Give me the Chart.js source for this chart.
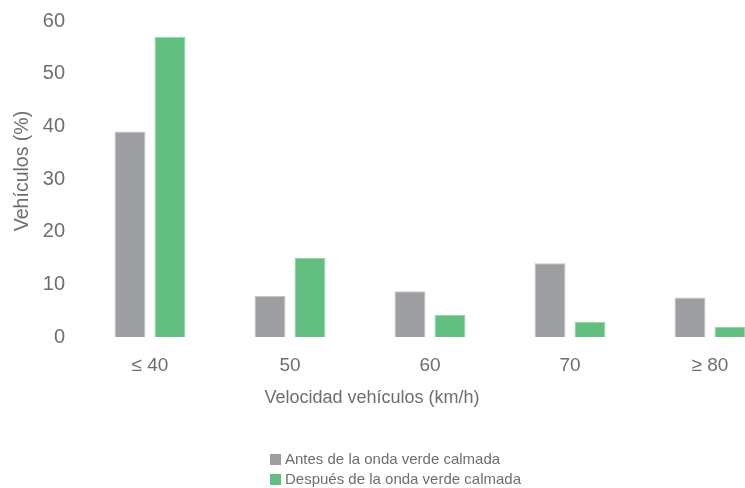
<!DOCTYPE html>
<html lang="es">
<head>
  <meta charset="UTF-8">
  <title>Velocidad vehículos</title>
  <script src="https://cdn.jsdelivr.net/npm/chart.js"></script>
  <style>
    body {
      margin: 0;
      overflow: hidden;
      background: #fff;
      font-family: "Liberation Sans", Arial, sans-serif;
    }
    .wrap {
      position: relative;
      width: 745px;
      height: 488px;
      overflow: hidden;
    }
    canvas {
      display: block;
    }
    #legend {
      position: absolute;
      left: 270px;
      top: 449px;
      color: #6d6e71;
      font-size: 15px;
    }
    #legend div {
      height: 19.5px;
      line-height: 19.5px;
      white-space: nowrap;
    }
    #legend span {
      display: inline-block;
      width: 11px;
      height: 11px;
      margin-right: 4px;
      vertical-align: -1px;
    }
  </style>
</head>
<body>
  <div class="wrap">
    <canvas id="speedChart" width="790" height="488"></canvas>
    <div id="legend"></div>
  </div>

  <script>
    // Data
    const categories = ['≤ 40', '50', '60', '70', '≥ 80'];
    const seriesNames = ['Antes de la onda verde calmada', 'Después de la onda verde calmada'];
    const antes = [39, 7.8, 8.7, 14, 7.5];
    const despues = [57, 15, 4.2, 2.9, 1.9];
    const yTicks = [0, 10, 20, 30, 40, 50, 60];

    const colors = ['#9d9ea1', '#62bf7f'];
    const borders = ['#c4c5c7', '#93d6a8'];
    const textColor = '#6d6e71';

    // axis titles drawn by hand: the reference does not center them on the plot area
    const axisTitles = {
      id: 'axisTitles',
      afterDraw(chart) {
        const c = chart.ctx;
        c.save();
        c.fillStyle = textColor;
        c.textAlign = 'center';
        c.textBaseline = 'middle';
        c.font = '18px "Liberation Sans"';
        c.fillText('Velocidad vehículos (km/h)', 372, 398);
        c.translate(23, 171);
        c.rotate(-Math.PI / 2);
        c.font = '19.5px "Liberation Sans"';
        c.fillText('Vehículos (%)', 0, 0);
        c.restore();
      },
    };

    const data = {
      labels: categories,
      datasets: [antes, despues].map((vals, i) => ({
        label: seriesNames[i],
        data: vals,
        backgroundColor: colors[i],
        borderColor: borders[i],
        borderWidth: 1,
        categoryPercentage: 0.571,
        barPercentage: 0.775,
      })),
    };

    const config = {
      type: 'bar',
      data: data,
      plugins: [axisTitles],
      options: {
        responsive: false,
        animation: false,
        layout: {
          padding: { top: 21, right: 10, bottom: 66, left: 0 },
        },
        plugins: {
          legend: { display: false },
          tooltip: { enabled: false },
        },
        scales: {
          x: {
            grid: { display: false, drawTicks: false },
            border: { display: false },
            ticks: {
              color: textColor,
              padding: 17,
              font: { family: 'Liberation Sans', size: 19 },
            },
            afterFit: function (scale) {
              scale.height = 85;
            },
          },
          y: {
            min: 0,
            max: 60,
            // invisible tick marks push the labels left without padding the top
            grid: { display: false, drawTicks: true, tickLength: 12 },
            border: { display: false },
            afterBuildTicks: function (scale) {
              scale.ticks = yTicks.map(v => ({ value: v }));
            },
            ticks: {
              color: textColor,
              padding: 3,
              font: { family: 'Liberation Sans', size: 20 },
            },
            afterFit: function (scale) {
              scale.width = 80;
            },
          },
        },
      },
    };

    const ctx = document.getElementById('speedChart').getContext('2d');
    const chart = new Chart(ctx, config);

    // Legend as html, stacked vertically
    const legend = document.getElementById('legend');
    chart.data.datasets.forEach(ds => {
      const row = document.createElement('div');
      const box = document.createElement('span');
      box.style.background = ds.backgroundColor;
      row.appendChild(box);
      row.appendChild(document.createTextNode(ds.label));
      legend.appendChild(row);
    });
  </script>
</body>
</html>
